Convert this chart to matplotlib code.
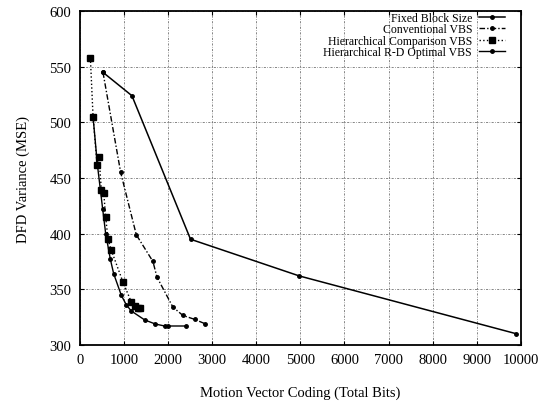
import matplotlib
matplotlib.use("Agg")
import matplotlib.pyplot as plt

plt.rcParams['font.family'] = ['Liberation Serif', 'DejaVu Serif']

fixed_x = [527, 1183, 2511, 4977, 9900]
fixed_y = [545, 524, 395, 362, 310]

conv_x = [527, 928, 1282, 1659, 1750, 2111, 2338, 2602, 2843]
conv_y = [545, 455, 399, 375, 361, 334, 326.5, 323, 319]

comp_x = [241, 302, 392, 437, 490, 543, 588, 640, 716, 980, 1169, 1250, 1320, 1357]
comp_y = [558, 505, 462, 469, 439, 437, 415, 395, 385, 356.5, 338.5, 335, 333, 333]

rd_x = [302, 400, 520, 588, 694, 769, 943, 1056, 1169, 1470, 1712, 1923, 2000, 2413]
rd_y = [505, 462, 422, 400, 377, 364, 344.5, 336, 330.5, 322.5, 318.8, 317, 317, 317]

labels = ["Fixed Block Size", "Conventional VBS",
          "Hierarchical Comparison VBS", "Hierarchical R-D Optimal VBS"]

xticks = list(range(0, 10001, 1000))
yticks = list(range(300, 601, 50))

fig = plt.figure(figsize=(5.5, 4.06), dpi=100)
ax = fig.add_axes([0.145, 0.148, 0.802, 0.822])

ax.plot(fixed_x, fixed_y, color='black', lw=1.1, ls='-', marker='o', ms=2.5, label=labels[0])
ax.plot(conv_x, conv_y, color='black', lw=1.0, ls=(0, (4, 1.5, 1, 1.5)), marker='o', ms=2.5, label=labels[1])
ax.plot(comp_x, comp_y, color='black', lw=1.0, ls=':', marker='s', ms=4, label=labels[2])
ax.plot(rd_x, rd_y, color='black', lw=1.0, ls='-', marker='o', ms=2.5, label=labels[3])

ax.set_xlim(0, 10000)
ax.set_ylim(300, 600)
ax.set_xticks(xticks)
ax.set_yticks(yticks)
ax.tick_params(direction='in', top=True, right=True, labelsize=10.5, length=3, pad=6)
ax.grid(True, color='#555555', ls=(0, (3, 2, 1, 2)), lw=0.5)
for s in ax.spines.values():
    s.set_linewidth(1.3)

ax.set_xlabel("Motion Vector Coding (Total Bits)", fontsize=10.5, labelpad=14)
ax.set_ylabel("DFD Variance (MSE)", fontsize=10.5, labelpad=14)

leg = ax.legend(loc='upper right', bbox_to_anchor=(0.975, 1.012), frameon=False,
                fontsize=8.5, markerfirst=False,
                handlelength=2.2, labelspacing=-0.05, borderaxespad=0.0,
                handletextpad=0.6)

fig.savefig("out.png", dpi=100)
